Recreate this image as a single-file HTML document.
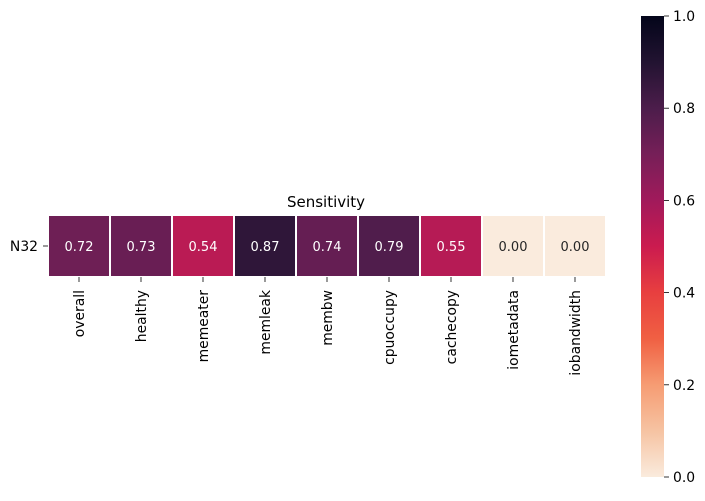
<!DOCTYPE html>
<html><head><meta charset="utf-8"><style>
body{margin:0;background:#fff}
text{font-family:"DejaVu Sans","Liberation Sans",sans-serif}
</style></head><body>
<svg id="c" width="705" height="496" xmlns="http://www.w3.org/2000/svg">
<defs><linearGradient id="cg" x1="0" y1="1" x2="0" y2="0">
<stop offset="0" stop-color="#faebdd"/><stop offset="0.1" stop-color="#f6c3a2"/><stop offset="0.2" stop-color="#f69c73"/><stop offset="0.3" stop-color="#f06043"/><stop offset="0.4" stop-color="#e83f3f"/><stop offset="0.5" stop-color="#cb1b4f"/><stop offset="0.6" stop-color="#a11a5b"/><stop offset="0.7" stop-color="#761f58"/><stop offset="0.8" stop-color="#4c1d4b"/><stop offset="0.9" stop-color="#221331"/><stop offset="1" stop-color="#03051a"/>
</linearGradient></defs>
<text x="326" y="207" font-size="15" text-anchor="middle" fill="#000">Sensitivity</text>
<g id="cells"></g>
<rect x="641" y="16" width="23" height="461" fill="url(#cg)"/>
<g id="cbticks"></g>
</svg>
<script>
const categories=["overall","healthy","memeater","memleak","membw","cpuoccupy","cachecopy","iometadata","iobandwidth"];
const rowLabels=["N32"];
const values=[0.72,0.73,0.54,0.87,0.74,0.79,0.55,0.00,0.00];
const cbTicks=[0,0.2,0.4,0.6,0.8,1.0];
const stops=[[250,235,221],[246,195,162],[246,156,115],[240,96,67],[232,63,63],[203,27,79],[161,26,91],[118,31,88],[76,29,75],[34,19,49],[3,5,26]];
function color(v){v=Math.max(0,Math.min(1,v));const p=v*10,i=Math.min(9,Math.floor(p)),t=p-i;const a=stops[i],b=stops[i+1];return `rgb(${a.map((x,k)=>Math.round(x+(b[k]-x)*t)).join(',')})`;}
const NS="http://www.w3.org/2000/svg";
const x0=48,cw=62,y0=215,ch=62;
const xPos=i=>x0+i*cw;
const cbY=v=>477-v*461;
const svg=document.getElementById('c'),g=document.getElementById('cells');
function mk(tag,attrs,parent){const e=document.createElementNS(NS,tag);for(const k in attrs)e.setAttribute(k,attrs[k]);parent.appendChild(e);return e;}
values.forEach((v,i)=>{
 const r=mk('rect',{x:xPos(i),y:y0,width:cw,height:ch,fill:color(v),stroke:'#fff','stroke-width':2},g);
 
 
 const t=mk('text',{x:xPos(i)+cw/2,y:y0+ch/2+5,'font-size':13,'text-anchor':'middle',fill:v<0.3?'#262626':'#fff'},g);
 t.textContent=v.toFixed(2);
 
 
 const cx=xPos(i)+cw/2;
 mk('line',{x1:cx,x2:cx,y1:y0+ch,y2:y0+ch+5,stroke:'#000','stroke-width':0.8},g);
 const l=mk('text',{x:0,y:0,'font-size':13.9,'text-anchor':'end',fill:'#000',transform:`translate(${cx+5},${y0+ch+13}) rotate(-90)`},g);
 l.textContent=categories[i];
 
 
});
rowLabels.forEach((r,j)=>{
 const cy=y0+ch/2+j*ch;
 mk('line',{x1:x0-5,x2:x0,y1:cy,y2:cy,stroke:'#000','stroke-width':0.8},g);
 const t=mk('text',{x:x0-10,y:cy+5,'font-size':13.9,'text-anchor':'end',fill:'#000'},g);
 t.textContent=r;
 
 
});
const cbg=document.getElementById('cbticks');
cbTicks.forEach(v=>{
 const y=cbY(v);
 mk('line',{x1:664,x2:669,y1:y,y2:y,stroke:'#000','stroke-width':0.8},cbg);
 const t=mk('text',{x:673,y:y+5,'font-size':13.9,fill:'#000'},cbg);
 t.textContent=v.toFixed(1);
 
 
});
</script>
</body></html>
